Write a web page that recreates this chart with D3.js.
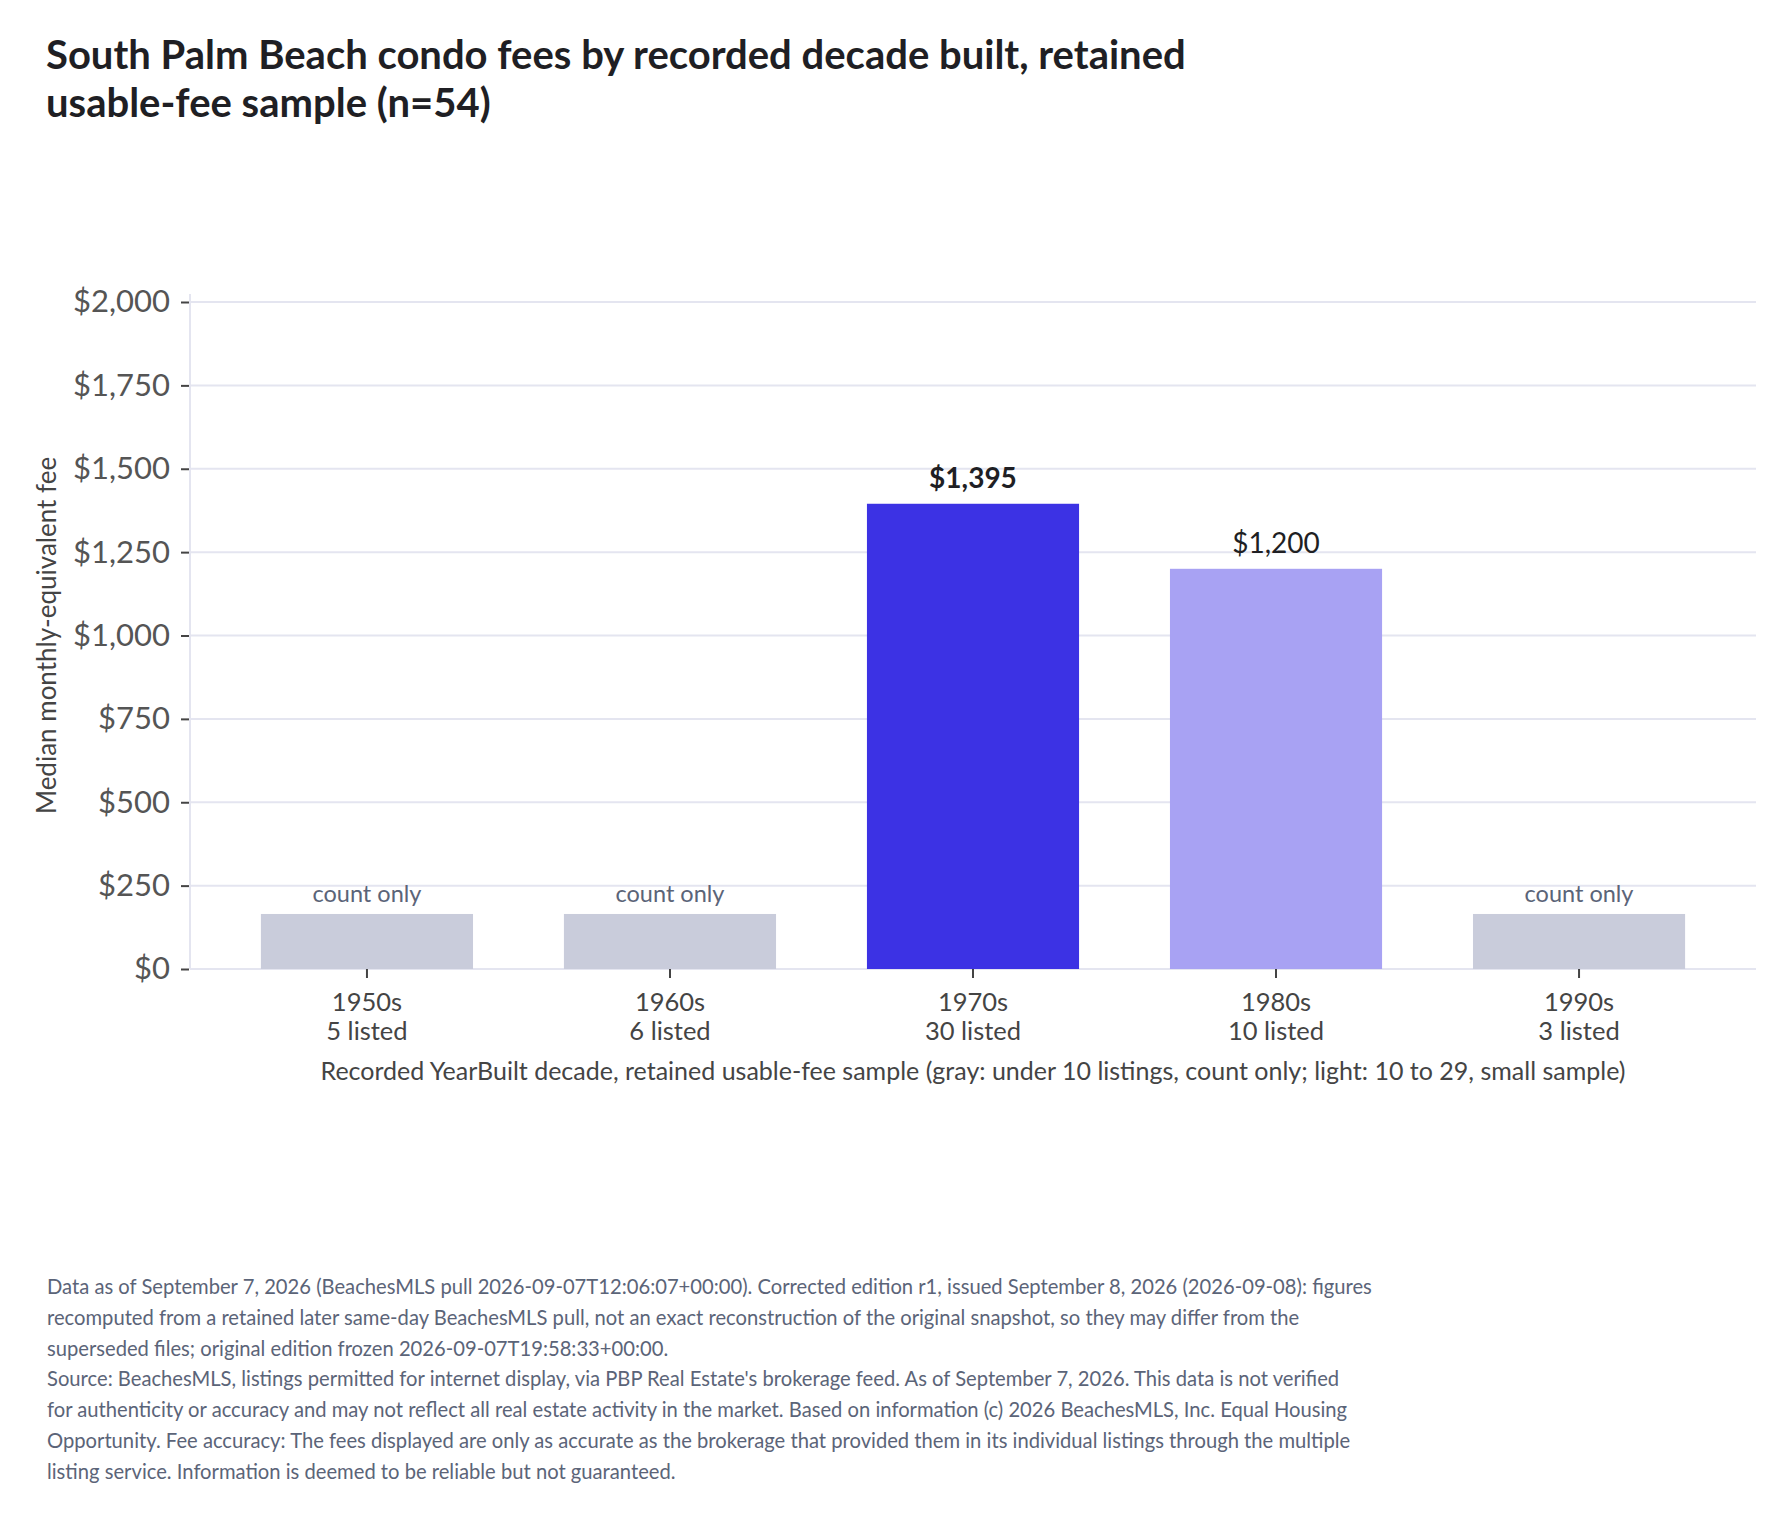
<!DOCTYPE html>
<html><head><meta charset="utf-8">
<script src="https://cdn.jsdelivr.net/npm/d3@7"></script>
<style>body{margin:0;background:#fff} svg text{font-family:Lato,"Noto Sans",sans-serif}</style>
</head><body><svg id="c" width="1791" height="1517"></svg>
<script>
const decades = ["1950s","1960s","1970s","1980s","1990s"];
const listedCounts = [5,6,30,10,3];
const medianFees = [null,null,1395,1200,null];
const sampleTier = ["gray","gray","full","light","gray"];
const countOnlyPlaceholder = 165;
const yTicks = [0,250,500,750,1000,1250,1500,1750,2000];
const titleLines = ["South Palm Beach condo fees by recorded decade built, retained","usable-fee sample (n=54)"];
const yTitle = "Median monthly-equivalent fee";
const xTitle = "Recorded YearBuilt decade, retained usable-fee sample (gray: under 10 listings, count only; light: 10 to 29, small sample)";
const footerLines = [
"Data as of September 7, 2026 (BeachesMLS pull 2026-09-07T12:06:07+00:00). Corrected edition r1, issued September 8, 2026 (2026-09-08): figures",
"recomputed from a retained later same-day BeachesMLS pull, not an exact reconstruction of the original snapshot, so they may differ from the",
"superseded files; original edition frozen 2026-09-07T19:58:33+00:00.",
"Source: BeachesMLS, listings permitted for internet display, via PBP Real Estate's brokerage feed. As of September 7, 2026. This data is not verified",
"for authenticity or accuracy and may not reflect all real estate activity in the market. Based on information (c) 2026 BeachesMLS, Inc. Equal Housing",
"Opportunity. Fee accuracy: The fees displayed are only as accurate as the brokerage that provided them in its individual listings through the multiple",
"listing service. Information is deemed to be reliable but not guaranteed."
];

const colors = {gray:"#c9ccdb", full:"#3c32e4", light:"#a8a2f3"};
const svg = d3.select("#c");
svg.append("rect").attr("width",1791).attr("height",1517).attr("fill","#fff");

const L = 190, R = 1756, T = 302, B = 969;
const x = d3.scaleBand().domain(decades).range([L,R]).paddingInner(0.3).paddingOuter(0.234);
const y = d3.scaleLinear().domain([0,2000]).range([B,T]);

// title
svg.append("g").selectAll("text").data(titleLines).join("text")
  .attr("x",46).attr("y",(d,i)=>69+i*48)
  .attr("font-size",40).attr("font-weight",700).attr("fill","#1f1f24").text(d=>d);

// gridlines
svg.append("g").selectAll("line").data(yTicks).join("line")
  .attr("x1",L).attr("x2",R).attr("y1",d=>y(d)).attr("y2",d=>y(d))
  .attr("stroke","#e4e5f0").attr("stroke-width",2);
// y axis line
svg.append("line").attr("x1",L).attr("x2",L).attr("y1",T-8).attr("y2",B)
  .attr("stroke","#e4e5f0").attr("stroke-width",2);

// y axis
const ya = svg.append("g").attr("transform",`translate(${L-1},0)`)
  .call(d3.axisLeft(y).tickValues(yTicks).tickSize(8).tickPadding(11)
    .tickFormat(d=>"$"+d3.format(",")(d)));
ya.select(".domain").remove();
ya.selectAll(".tick line").attr("stroke","#444").attr("stroke-width",2);
ya.selectAll(".tick text").attr("font-size",31).attr("fill","#555").attr("font-family","Lato");

// y title
svg.append("text").attr("transform",`translate(56,${(T+B)/2}) rotate(-90)`)
  .attr("text-anchor","middle").attr("font-size",26).attr("fill","#444").text(yTitle);

// data rows
const rows = decades.map((d,i)=>({decade:d, n:listedCounts[i], fee:medianFees[i], tier:sampleTier[i]}));

svg.append("g").selectAll("rect").data(rows).join("rect")
  .attr("x",d=>x(d.decade)).attr("width",x.bandwidth())
  .attr("y",d=>y(d.fee==null?countOnlyPlaceholder:d.fee))
  .attr("height",d=>B-y(d.fee==null?countOnlyPlaceholder:d.fee))
  .attr("fill",d=>colors[d.tier]);

// bar labels
svg.append("g").selectAll("text").data(rows).join("text")
  .attr("x",d=>x(d.decade)+x.bandwidth()/2)
  .attr("y",d=>d.fee==null? y(countOnlyPlaceholder)-12 : y(d.fee)-16)
  .attr("text-anchor","middle")
  .attr("font-size",d=>d.fee==null?23.5:28)
  .attr("font-weight",d=>d.tier==="full"?700:400)
  .attr("fill",d=>d.fee==null?"#5b6478":"#1f1f24")
  .text(d=>d.fee==null?"count only":"$"+d3.format(",")(d.fee));

// x axis
const xa = svg.append("g").attr("transform",`translate(0,${B})`)
  .call(d3.axisBottom(x).tickSize(9).tickPadding(0).tickFormat(""));
xa.select(".domain").remove();
xa.selectAll(".tick line").attr("stroke","#444").attr("stroke-width",2);
const xl = svg.append("g").selectAll("text").data(rows).join("text")
  .attr("text-anchor","middle").attr("font-size",25.5).attr("fill","#444")
  .attr("x",d=>x(d.decade)+x.bandwidth()/2);
xl.append("tspan").attr("x",d=>x(d.decade)+x.bandwidth()/2).attr("y",1011).text(d=>d.decade);
xl.append("tspan").attr("x",d=>x(d.decade)+x.bandwidth()/2).attr("y",1040).text(d=>d.n+" listed");

// x title
svg.append("text").attr("x",(L+R)/2).attr("y",1080).attr("text-anchor","middle")
  .attr("font-size",25).attr("fill","#444").text(xTitle);

// footer
svg.append("g").selectAll("text").data(footerLines).join("text")
  .attr("x",47).attr("y",(d,i)=>1294+i*30.8)
  .attr("font-size",20.2).attr("fill","#5b6478").text(d=>d);
</script></body></html>
